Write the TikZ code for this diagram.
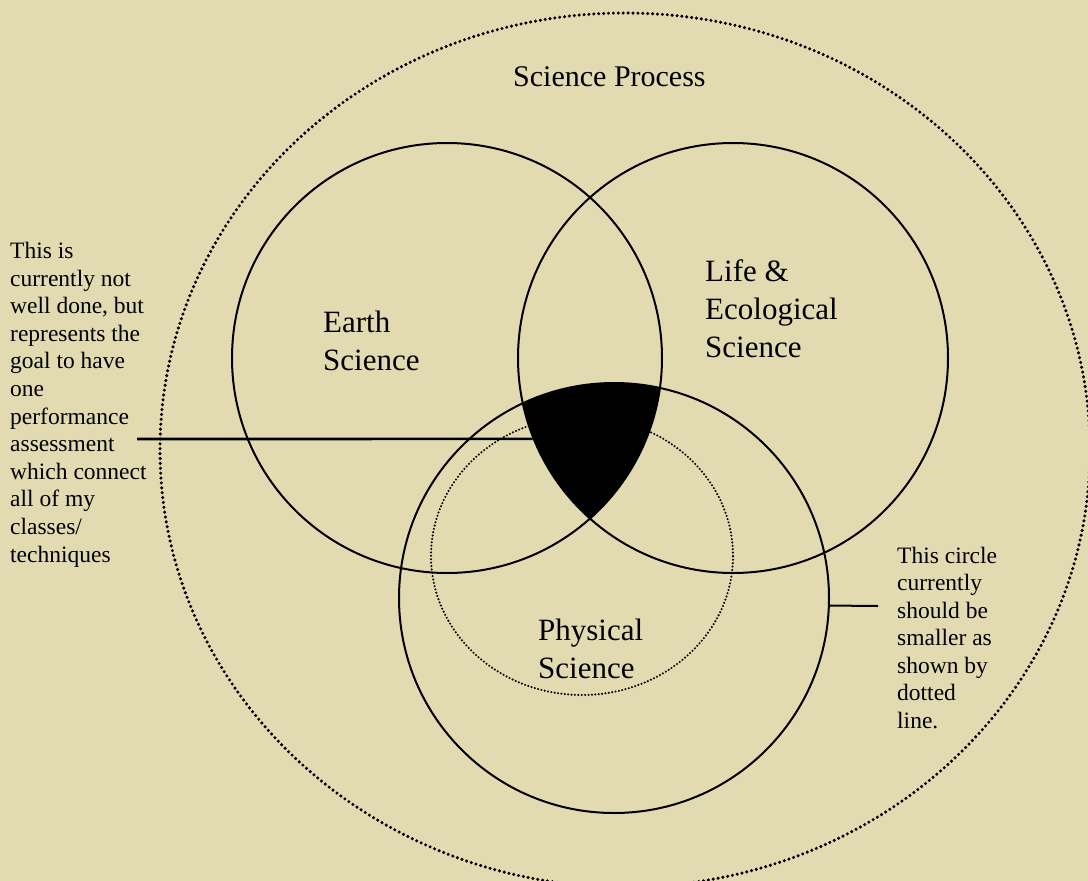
\documentclass[tikz,border=0pt]{standalone}
\usepackage{fontspec}
\setmainfont{Liberation Serif}
\definecolor{bg}{RGB}{226,219,178}
\begin{document}
\begin{tikzpicture}[x=1pt,y=-1pt,
  ring/.style={circle, draw, line width=2pt, minimum size=430pt, inner sep=0pt},
  lbl/.style={font=\fontsize{31}{38}\selectfont, align=left, anchor=base west, inner sep=0pt},
  note/.style={align=left, anchor=base west, inner sep=0pt},
  bigdots/.style={line width=3.4pt, line cap=round, dash pattern=on 0pt off 4.9pt},
  smalldots/.style={line width=2.3pt, line cap=round, dash pattern=on 0pt off 3.4pt},
  conn/.style={line width=2.6pt}]
\useasboundingbox (0,0) rectangle (1088,881);
\fill[bg] (0,0) rectangle (1088,881);
\clip (0,0) rectangle (1088,881);
% outer dotted boundary
\draw[bigdots] (625,450) ellipse [x radius=465pt, y radius=437pt];
% three circles
\node[ring] (earth) at (447,358) {};
\node[ring] (life) at (733,358) {};
\node[ring] (phys) at (614,598) {};
% smaller dotted circle
\draw[smalldots] (582,556) ellipse [x radius=151pt, y radius=139pt];
% connectors
\coordinate (lstart) at (137,439);
\draw[conn] (lstart) -- (life.202.1);
\coordinate (rend) at (878,606);
\draw[line width=2pt] (phys.-2) -- (rend);
% black triple intersection
\begin{scope}
\clip (447,358) circle [radius=215pt];
\clip (733,358) circle [radius=215pt];
\fill (614,598) circle [radius=215pt];
\end{scope}
% labels (anchor = baseline of the last line)
\node[lbl, font=\fontsize{30}{36}\selectfont] (proc) at (513,86) {Science Process};
\node[lbl] (earthlbl) at (323,370) {Earth\\Science};
\node[lbl] (lifelbl) at (705,357) {Life \&\\Ecological\\Science};
\node[lbl] (physlbl) at (538,678) {Physical\\Science};
\node[note, font=\fontsize{23.5}{27.6}\selectfont] (lnote) at (10,562)
  {This is\\currently not\\well done, but\\represents the\\goal to have\\one\\performance\\assessment\\which connect\\all of my\\classes/\\techniques};
\node[note, font=\fontsize{23.5}{27.5}\selectfont] (rnote) at (897,728)
  {This circle\\currently\\should be\\smaller as\\shown by\\dotted\\line.};
\end{tikzpicture}
\end{document}
